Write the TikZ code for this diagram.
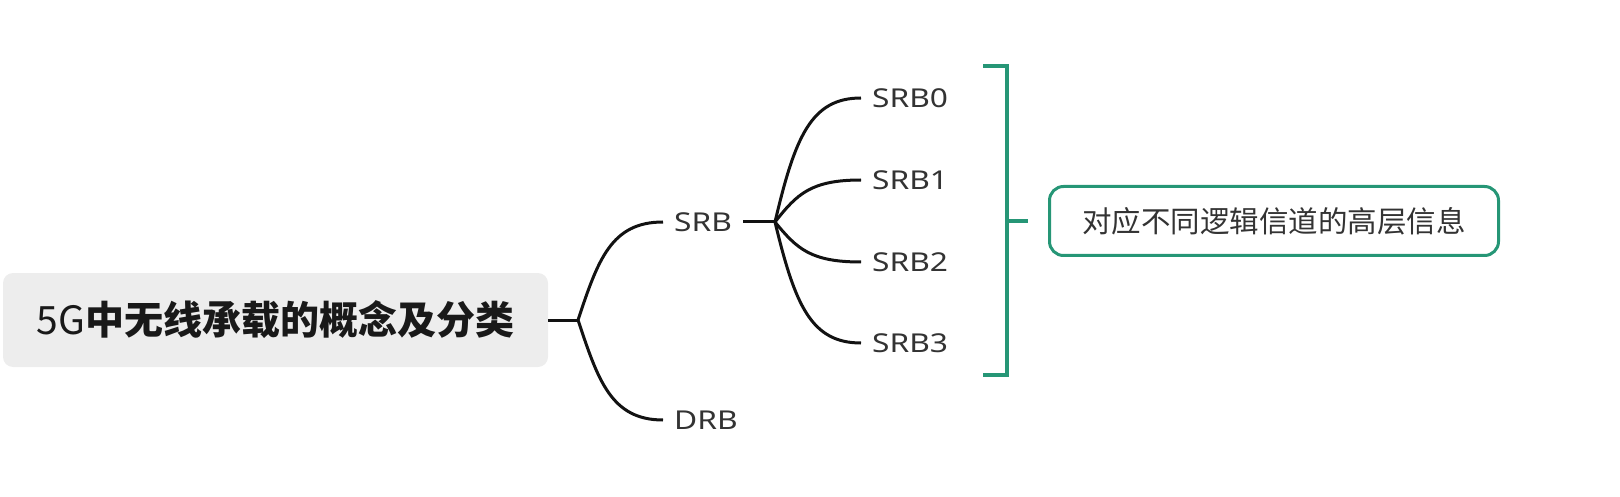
\documentclass[tikz,border=0pt]{standalone}
\usepackage{fontspec}
\newfontfamily\cjk{Noto Sans CJK SC}
\newfontfamily\lat{Noto Sans}[FakeStretch=1.22]
\definecolor{teal1}{RGB}{38,150,118}
\definecolor{ink}{RGB}{51,51,51}
\begin{document}
\begin{tikzpicture}[x=1pt,y=-1pt,
  conn/.style={line width=3pt, draw=black!93},
  leaf/.style={anchor=west, inner xsep=11pt, inner ysep=0pt, text=ink, font=\lat\fontsize{26}{30}\selectfont},
  rootbox/.style={fill=black!7, rounded corners=10pt, minimum width=545pt, minimum height=94pt, inner sep=0pt, font=\cjk\fontsize{39}{44}\selectfont, text=black!90},
  sumbox/.style={draw=teal1, line width=3pt, rounded corners=14pt, minimum width=449pt, minimum height=69pt, inner sep=0pt, font=\cjk\fontsize{29.5}{34}\selectfont, text=ink},
  bracket/.style={draw=teal1, line width=3.5pt}]
\useasboundingbox (0,0) rectangle (1620,497);

% root
\node[rootbox] (r) at (275.5,320) {5G{\bfseries 中无线承载的概念及分类}};
\coordinate (b1) at (578,320);
\draw[conn] (r.east) -- (b1);

% first level
\node[leaf] (srb) at (663,222) {SRB};
\node[leaf] (drb) at (663,420) {DRB};
\draw[conn] (b1) .. controls +(20,-60) and +(-52,0) .. (srb.west);
\draw[conn] (b1) .. controls +(20,60) and +(-52,0) .. (drb.west);

% second level
\coordinate (b2) at (775,222);
\draw[conn] (srb.east) -- (b2);
\node[leaf] (s0) at (861,98) {SRB0};
\node[leaf] (s1) at (861,180) {SRB1};
\node[leaf] (s2) at (861,262) {SRB2};
\node[leaf] (s3) at (861,343) {SRB3};
\draw[conn] (b2) .. controls +(20,-85) and +(-50,0) .. (s0.west);
\draw[conn] (b2) .. controls +(22,-28) and +(-50,0) .. (s1.west);
\draw[conn] (b2) .. controls +(22,27) and +(-50,0) .. (s2.west);
\draw[conn] (b2) .. controls +(20,83) and +(-50,0) .. (s3.west);

% summary bracket
\coordinate (bt) at (983,66);
\coordinate (bb) at (983,375);
\coordinate (bm) at (1007,221);
\draw[bracket] (bt) -- (1007,66) -- (1007,375) -- (bb);
\node[sumbox] (sum) at (1274,221) {对应不同逻辑信道的高层信息};
\draw[bracket] (bm) -- ++(21,0);
\end{tikzpicture}
\end{document}
